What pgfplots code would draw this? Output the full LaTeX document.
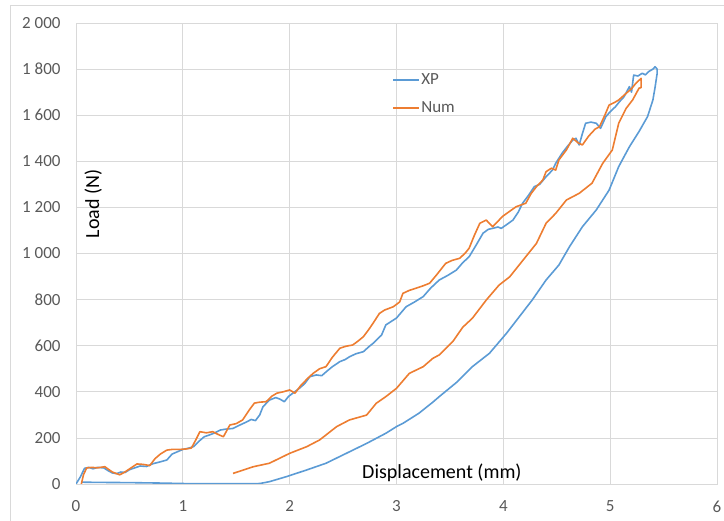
\documentclass[border=0pt]{standalone}
\usepackage{pgfplots}
\pgfplotsset{compat=1.18}
\usepackage{fontspec}
\setmainfont{Carlito}
\definecolor{xpblue}{HTML}{5B9BD5}
\definecolor{numorange}{HTML}{ED7D31}
\definecolor{gridgray}{HTML}{D9D9D9}
\definecolor{ticktext}{HTML}{595959}
\begin{document}
\begin{tikzpicture}
\path[use as bounding box] (0,0) rectangle (724bp,521bp);
\draw[gridgray, line width=0.75bp] (10.5bp,0) -- (10.5bp,515.5bp) -- (724bp,515.5bp);
\begin{axis}[
  at={(76bp,37bp)}, anchor=south west,
  scale only axis, width=641bp, height=461bp,
  xmin=0, xmax=6, ymin=0, ymax=2000,
  xtick={0,1,2,3,4,5,6}, ytick={0,200,...,2000},
  grid=major, major grid style={gridgray, line width=0.75bp},
  axis line style={gridgray, line width=0.75bp},
  major tick length=0pt,
  tick label style={font=\fontsize{17bp}{20bp}\selectfont, text=ticktext},
  /pgf/number format/assume math mode=true,
  /pgf/number format/1000 sep={\ },
  yticklabel style={xshift=-12bp},
  xticklabel style={yshift=-13bp},
  legend style={at={(0.493,0.846)}, anchor=west, draw=none, fill=none,
    font=\fontsize{17bp}{20bp}\selectfont, row sep=13bp, inner sep=0pt,
    nodes={inner sep=1.5bp, text=ticktext}},
  legend cell align=left,
  legend image code/.code={\draw[#1] (0bp,0bp) -- (26bp,0bp);},
]
\addlegendimage{xpblue, line width=1.6bp}
\addlegendentry{XP}
\addlegendimage{numorange, line width=1.6bp}
\addlegendentry{Num}
\addplot[xpblue, line width=1.6bp, line join=round, mark=none, forget plot] coordinates {
(0,0) (0.04,30) (0.08,68) (0.12,72) (0.16,66) (0.2,72) (0.26,70) (0.3,58) (0.34,48) (0.38,45) (0.42,52) (0.46,50) (0.5,62) (0.55,70) (0.6,78) (0.66,76) (0.72,88) (0.78,95) (0.85,104) (0.9,130) (0.95,140) (1.0,150) (1.05,155) (1.1,162) (1.15,185) (1.2,205) (1.25,213) (1.3,222) (1.35,234) (1.4,238) (1.47,241) (1.53,255) (1.6,270) (1.64,280) (1.68,275) (1.72,300) (1.75,335) (1.81,364) (1.87,375) (1.91,368) (1.95,357) (1.99,380) (2.03,394) (2.09,415) (2.14,435) (2.19,466) (2.25,473) (2.3,470) (2.35,490) (2.4,509) (2.47,531) (2.52,540) (2.56,552) (2.62,565) (2.69,574) (2.74,595) (2.78,610) (2.86,646) (2.9,690) (2.97,711) (3.0,720) (3.09,769) (3.17,790) (3.25,813) (3.32,850) (3.4,885) (3.48,905) (3.56,928) (3.62,960) (3.68,986) (3.75,1040) (3.81,1088) (3.86,1105) (3.90,1109) (3.95,1115) (3.98,1109) (4.03,1125) (4.09,1145) (4.14,1180) (4.18,1218) (4.24,1255) (4.29,1290) (4.34,1300) (4.40,1333) (4.46,1362) (4.49,1391) (4.55,1435) (4.60,1465) (4.65,1492) (4.68,1500) (4.71,1471) (4.74,1520) (4.77,1565) (4.82,1570) (4.87,1565) (4.91,1543) (4.96,1594) (5.0,1615) (5.05,1637) (5.09,1660) (5.13,1680) (5.18,1724) (5.20,1700) (5.22,1774) (5.26,1770) (5.30,1782) (5.33,1775) (5.36,1789) (5.40,1800) (5.42,1810) (5.44,1800)
(5.44,1782) (5.42,1720) (5.40,1666) (5.35,1594) (5.27,1529) (5.18,1463) (5.08,1377) (4.99,1275) (4.93,1232) (4.87,1189) (4.74,1116) (4.62,1030) (4.52,950) (4.40,885) (4.27,798) (4.15,726) (4.03,654) (3.87,567) (3.71,509) (3.56,440) (3.40,379) (3.34,355) (3.21,307) (3.06,263) (3.0,249) (2.90,220) (2.72,176) (2.53,133) (2.34,90) (2.16,61) (1.97,32) (1.81,10) (1.72,2) (1.5,1) (1.2,1) (1.0,2) (0.8,4) (0.5,6) (0.2,7) (0.05,8)
};
\addplot[numorange, line width=1.6bp, line join=round, mark=none, forget plot] coordinates {
(0.05,0) (0.07,40) (0.1,70) (0.15,72) (0.2,70) (0.27,75) (0.3,65) (0.34,52) (0.38,45) (0.41,40) (0.45,50) (0.5,65) (0.57,87) (0.63,85) (0.69,80) (0.74,110) (0.79,130) (0.85,147) (0.9,150) (0.97,150) (1.03,152) (1.08,156) (1.12,190) (1.16,227) (1.22,222) (1.28,227) (1.33,215) (1.38,205) (1.44,256) (1.5,262) (1.56,278) (1.62,320) (1.67,351) (1.72,355) (1.78,357) (1.83,380) (1.88,394) (1.94,400) (2.0,408) (2.05,394) (2.1,425) (2.17,459) (2.22,480) (2.28,500) (2.34,509) (2.4,550) (2.47,589) (2.53,598) (2.59,603) (2.64,620) (2.69,639) (2.74,670) (2.78,697) (2.84,740) (2.89,755) (2.97,769) (3.03,790) (3.06,827) (3.12,840) (3.18,849) (3.25,860) (3.31,871) (3.38,910) (3.46,957) (3.52,970) (3.59,979) (3.64,1000) (3.68,1023) (3.73,1080) (3.78,1131) (3.84,1145) (3.90,1116) (3.95,1140) (3.99,1160) (4.05,1180) (4.12,1203) (4.21,1218) (4.26,1260) (4.31,1290) (4.37,1319) (4.40,1355) (4.45,1370) (4.49,1362) (4.52,1406) (4.59,1449) (4.65,1500) (4.70,1480) (4.74,1471) (4.80,1510) (4.86,1540) (4.90,1550) (4.95,1600) (4.99,1644) (5.04,1655) (5.08,1666) (5.15,1695) (5.20,1715) (5.24,1738) (5.29,1760)
(5.29,1720) (5.27,1717) (5.21,1666) (5.15,1630) (5.08,1565) (5.02,1449) (4.93,1391) (4.83,1305) (4.71,1261) (4.59,1232) (4.49,1174) (4.40,1131) (4.31,1044) (4.21,986) (4.06,899) (3.96,863) (3.84,798) (3.71,719) (3.62,680) (3.53,620) (3.40,560) (3.34,545) (3.25,509) (3.12,480) (3.0,415) (2.90,379) (2.81,350) (2.72,299) (2.56,278) (2.44,249) (2.28,191) (2.16,162) (2.0,133) (1.81,90) (1.66,75) (1.47,46)
};
\node[rotate=90, font=\fontsize{20bp}{24bp}\selectfont] at (axis cs:0.16,1215) {Load (N)};
\node[anchor=base, inner sep=0pt, font=\fontsize{20bp}{24bp}\selectfont] at (axis cs:3.425,22) {Displacement (mm)};
\end{axis}
\end{tikzpicture}
\end{document}
